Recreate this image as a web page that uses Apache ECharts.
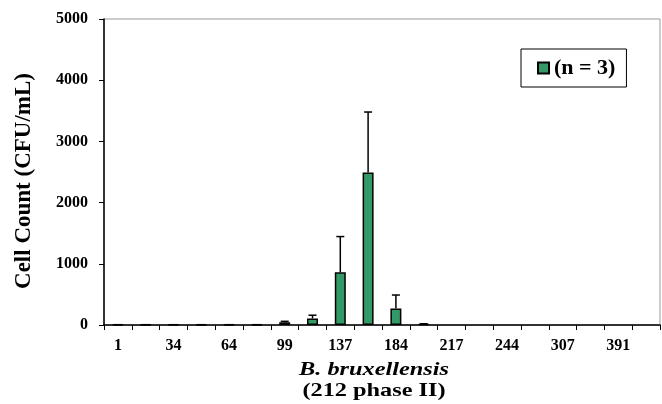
<!DOCTYPE html>
<html>
<head>
<meta charset="utf-8">
<script src="https://cdn.jsdelivr.net/npm/echarts@6/dist/echarts.min.js"></script>
<style>html,body{margin:0;padding:0;background:#fff}#c{width:662px;height:404px}</style>
</head>
<body>
<div id="c"></div>
<script>
var categories = ['1','','34','','64','','99','','137','','184','','217','','244','','307','','391',''];
var cellCount = [5, 5, 5, 5, 5, 5, 45, 107, 860, 2490, 270, 15, '-', '-', '-', '-', '-', '-', '-', '-'];
var errorPlus = [0, 0, 0, 0, 0, 0, 15, 53, 585, 990, 220, 5, null, null, null, null, null, null, null, null];
var yTicks = [0, 1000, 2000, 3000, 4000, 5000];
var seriesName = '(n = 3)';

var FONT = 'Liberation Serif';
var chart = echarts.init(document.getElementById('c'));
var errData = [];
for (var i = 0; i < categories.length; i++) {
  if (errorPlus[i] !== null && cellCount[i] !== '-') errData.push([i, cellCount[i], cellCount[i] + errorPlus[i]]);
}
chart.setOption({
  animation: false,
  grid: {left: 104, right: 2, top: 19, bottom: 79, show: true, borderColor: '#9a9a9a', borderWidth: 1, backgroundColor: 'transparent'},
  legend: {
    data: [seriesName], left: 521, top: 49, orient: 'horizontal',
    icon: 'rect', itemWidth: 11, itemHeight: 11, itemGap: 5,
    padding: [8, 11, 8, 16], borderColor: '#000', borderWidth: 1, backgroundColor: '#fff',
    textStyle: {fontFamily: FONT, fontWeight: 'bold', fontSize: 22, color: '#000', padding: [0,0,0,0]}
  },
  xAxis: {
    type: 'category', data: categories,
    axisLine: {lineStyle: {color: '#000', width: 1.5}},
    axisTick: {show: true, length: 5, lineStyle: {color: '#000', width: 1}},
    axisLabel: {interval: 0, margin: 13, fontFamily: FONT, fontWeight: 'bold', fontSize: 16, color: '#000'},
    splitLine: {show: false}
  },
  yAxis: {
    type: 'value', min: yTicks[0], max: yTicks[yTicks.length - 1], interval: 1000,
    axisLine: {show: true, lineStyle: {color: '#000', width: 1.5}},
    axisTick: {show: true, length: 5, lineStyle: {color: '#000', width: 1}},
    axisLabel: {margin: 16, fontFamily: FONT, fontWeight: 'bold', fontSize: 16, color: '#000',
      formatter: function (v) { return String(v); }},
    splitLine: {show: false}
  },
  graphic: [
    {type: 'text', rotation: Math.PI / 2, x: 24, y: 181,
     style: {text: 'Cell Count (CFU/mL)', font: 'bold 23px "Liberation Serif"', fill: '#000', align: 'center', verticalAlign: 'middle'}},
    {type: 'text', x: 374, y: 370, scaleX: 1.28,
     style: {text: 'B. bruxellensis', font: 'italic bold 19px "Liberation Serif"', fill: '#000', align: 'center', verticalAlign: 'middle'}},
    {type: 'text', x: 374, y: 391, scaleX: 1.28,
     style: {text: '(212 phase II)', font: 'bold 19px "Liberation Serif"', fill: '#000', align: 'center', verticalAlign: 'middle'}}
  ],
  series: [
    {
      name: seriesName, type: 'bar', data: cellCount, barWidth: 11,
      itemStyle: {color: '#339966', borderColor: '#000', borderWidth: 1.5}
    },
    {
      type: 'custom', data: errData, z: 3,
      renderItem: function (params, api) {
        var x = api.value(0);
        var lo = api.coord([x, api.value(1)]);
        var hi = api.coord([x, api.value(2)]);
        return {type: 'group', children: [
          {type: 'line', shape: {x1: lo[0], y1: lo[1], x2: hi[0], y2: hi[1]}, style: {stroke: '#000', lineWidth: 1.5}},
          {type: 'line', shape: {x1: hi[0] - 4, y1: hi[1], x2: hi[0] + 4, y2: hi[1]}, style: {stroke: '#000', lineWidth: 1.5}}
        ]};
      }
    }
  ]
});
</script>
</body>
</html>
